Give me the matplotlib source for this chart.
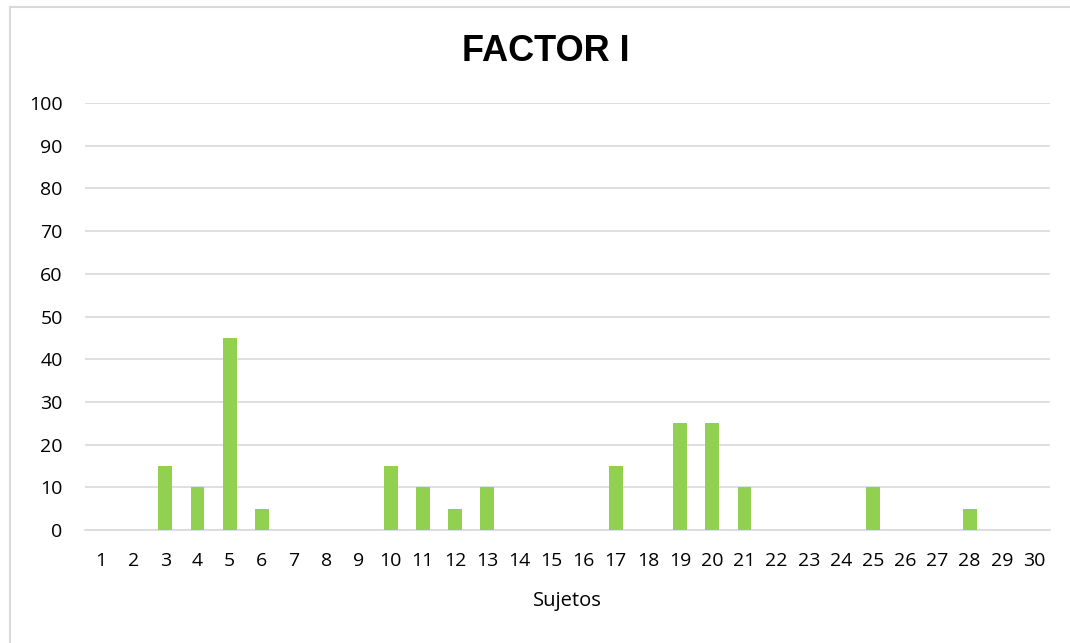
import matplotlib
matplotlib.use('Agg')
import matplotlib.pyplot as plt
from matplotlib.lines import Line2D

# data
sujetos = list(range(1, 31))
valores = [0, 0, 15, 10, 45, 5, 0, 0, 0, 15,
           10, 5, 10, 0, 0, 0, 15, 0, 25, 25,
           10, 0, 0, 0, 10, 0, 0, 5, 0, 0]
yticks = list(range(0, 101, 10))

plt.rcParams['font.family'] = ['Open Sans', 'DejaVu Sans']

fig = plt.figure(figsize=(10.7, 6.43), dpi=100)
ax = fig.add_axes([0.0794, 0.1757, 0.902, 0.664])

ax.bar(sujetos, valores, width=0.43, color='#92D050', zorder=3)

ax.set_xlim(0.5, 30.5)
ax.set_ylim(0, 100)
ax.set_yticks(yticks)
ax.set_xticks(sujetos)
ax.grid(axis='y', color='#d9d9d9', linewidth=1.2, zorder=0)
for s in ['top', 'right', 'left']:
    ax.spines[s].set_visible(False)
ax.spines['bottom'].set_color('#d9d9d9')
ax.spines['bottom'].set_linewidth(1.2)
ax.tick_params(length=0, labelsize=14, colors='#000000')
ax.tick_params(axis='x', pad=16)
ax.tick_params(axis='y', pad=16)

ax.set_xlabel('Sujetos', fontsize=14.5, labelpad=15)
fig.text(0.51, 0.92, 'FACTOR I', ha='center', va='center',
         fontsize=26, fontweight='bold', family='Liberation Sans')

# outer chart border
for xs, ys in [([0.009, 0.009], [0, 0.989]), ([0.009, 1.0], [0.989, 0.989])]:
    fig.add_artist(Line2D(xs, ys, color='#d9d9d9', linewidth=1.5))

fig.savefig('out.png', dpi=100)
